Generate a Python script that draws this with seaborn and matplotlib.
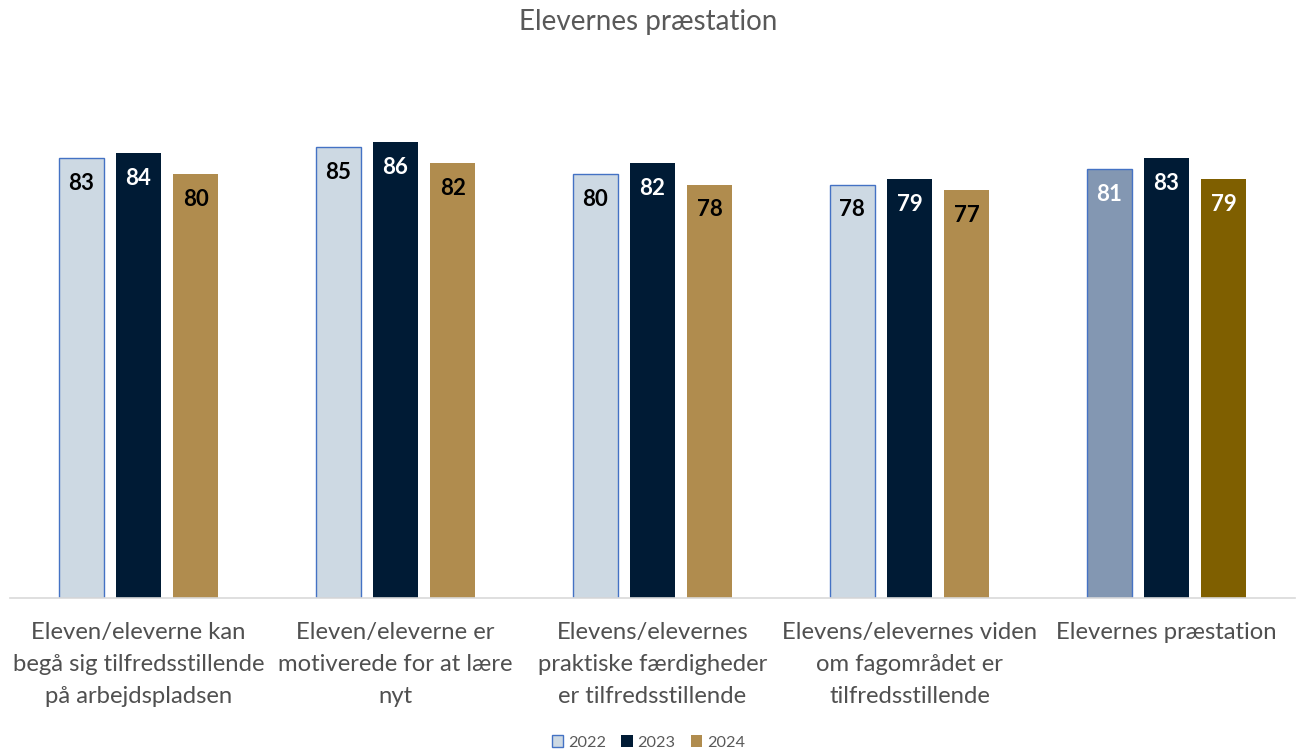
import matplotlib
matplotlib.use("Agg")
import matplotlib.pyplot as plt
from matplotlib.patches import Patch
import seaborn as sns
import pandas as pd

categories = [
    "Eleven/eleverne kan\nbegå sig tilfredsstillende\npå arbejdspladsen",
    "Eleven/eleverne er\nmotiverede for at lære\nnyt",
    "Elevens/elevernes\npraktiske færdigheder\ner tilfredsstillende",
    "Elevens/elevernes viden\nom fagområdet er\ntilfredsstillende",
    "Elevernes præstation",
]
years = ["2022", "2023", "2024"]
values_2022 = [83, 85, 80, 78, 81]
values_2023 = [84, 86, 82, 79, 83]
values_2024 = [80, 82, 78, 77, 79]

colors = {"2022": "#cdd9e3", "2023": "#001b35", "2024": "#b08c4e"}
total_colors = {"2022": "#8397b2", "2023": "#001b35", "2024": "#7f5f00"}
label_colors = {"2022": "black", "2023": "white", "2024": "black"}
edge_2022 = "#4472c4"

df = pd.DataFrame({
    "kategori": categories * 3,
    "år": [y for y in years for _ in categories],
    "værdi": values_2022 + values_2023 + values_2024,
})

sns.set_theme(style="white")
plt.rcParams["font.family"] = ["Lato", "DejaVu Sans"]

fig = plt.figure(figsize=(12.97, 7.53), dpi=100)
ax = fig.add_axes([0.0077, 0.2058, 0.9908, 0.704])

sns.barplot(data=df, x="kategori", y="værdi", hue="år", order=categories,
            hue_order=years, palette=colors, width=0.667, gap=0.21,
            saturation=1, legend=False, ax=ax)

n = len(categories)
for year, container in zip(years, ax.containers):
    for i, bar in enumerate(container):
        total = (i == n - 1)
        bar.set_facecolor(total_colors[year] if total else colors[year])
        if year == "2022":
            bar.set_edgecolor(edge_2022)
            bar.set_linewidth(1.0)
        else:
            bar.set_edgecolor("none")
        v = bar.get_height()
        tc = "white" if total else label_colors[year]
        ax.text(bar.get_x() + bar.get_width() / 2, v - 4.8, f"{v:.0f}",
                ha="center", va="center", fontsize=16, fontweight="bold",
                color=tc)

ax.set_ylim(0, 100)
ax.set_xlim(-0.5, n - 0.5)
ax.set_yticks([])
ax.set_xlabel("")
ax.set_ylabel("")
for s in ["top", "right", "left"]:
    ax.spines[s].set_visible(False)
ax.spines["bottom"].set_color("#d9d9d9")
ax.spines["bottom"].set_linewidth(1.2)
ax.tick_params(axis="x", length=0, pad=17.5)
ax.set_xticks(range(n))
ax.set_xticklabels(categories, fontsize=17.2, color="#505050",
                   linespacing=1.65, va="top")

fig.text(0.5, 0.971, "Elevernes præstation", ha="center", va="center",
         fontsize=20, color="#595959")

handles = [
    Patch(facecolor=colors["2022"], edgecolor=edge_2022, linewidth=1.0),
    Patch(facecolor=colors["2023"], edgecolor="none"),
    Patch(facecolor=colors["2024"], edgecolor="none"),
]
fig.legend(handles, years, loc="center", bbox_to_anchor=(0.5, 0.014),
           ncol=3, frameon=False, fontsize=11.7, handlelength=0.7,
           handleheight=0.7, handletextpad=0.3, columnspacing=0.95,
           labelcolor="#595959")

fig.savefig("out.png", dpi=100)
